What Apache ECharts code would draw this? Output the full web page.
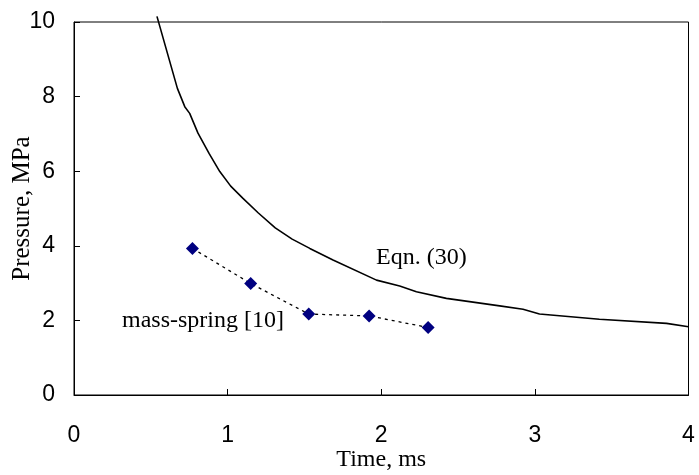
<!DOCTYPE html>
<html><head><meta charset="utf-8">
<script src="https://cdn.jsdelivr.net/npm/echarts@6/dist/echarts.min.js"></script>
<style>html,body{margin:0;padding:0;background:#fff}#c{width:699px;height:475px}</style>
</head><body><div id="c"></div>
<script>
// Eqn. (30) curve: time (ms), pressure (MPa)
const eqnTime = [0.54, 0.673, 0.721, 0.753, 0.807, 0.88, 0.949, 1.02, 1.10, 1.20, 1.31, 1.42, 1.535, 1.686, 1.969, 2.12, 2.229, 2.424, 2.771, 2.923, 3.03, 3.42, 3.857, 4.0];
const eqnPressure = [10.15, 8.22, 7.73, 7.55, 7.02, 6.47, 5.99, 5.60, 5.27, 4.88, 4.48, 4.18, 3.93, 3.62, 3.08, 2.92, 2.77, 2.59, 2.39, 2.30, 2.17, 2.03, 1.92, 1.83];
// mass-spring [10]
const msTime = [0.771, 1.150, 1.528, 1.921, 2.305];
const msPressure = [3.93, 2.99, 2.17, 2.12, 1.81];
const xTicks = [0, 1, 2, 3, 4];
const yTicks = [0, 2, 4, 6, 8, 10];
const xTitle = 'Time, ms';
const yTitle = 'Pressure, MPa';
const eqnLabel = 'Eqn. (30)';
const msLabel = 'mass-spring [10]';

const chart = echarts.init(document.getElementById('c'));
const serif = '"Liberation Serif", "Times New Roman", serif';
const sans = '"Liberation Sans", Arial, sans-serif';
chart.setOption({
  animation: false,
  grid: {left: 74, right: 10.5, top: 22, bottom: 80, containLabel: false, outerBoundsMode: 'none',
         show: true, borderColor: '#000', borderWidth: 1},
  xAxis: {
    type: 'value', min: xTicks[0], max: xTicks[xTicks.length - 1], interval: 1,
    axisLine: {lineStyle: {color: '#000', width: 1}},
    axisTick: {inside: true, length: 6, lineStyle: {color: '#000'}},
    splitLine: {show: false},
    axisLabel: {color: '#000', fontFamily: sans, fontSize: 23, margin: 29},
    name: xTitle, nameLocation: 'middle', nameGap: 53, nameMoveOverlap: false,
    nameTextStyle: {color: '#000', fontFamily: serif, fontSize: 24}
  },
  yAxis: {
    type: 'value', min: yTicks[0], max: yTicks[yTicks.length - 1], interval: 2,
    axisLine: {lineStyle: {color: '#000', width: 1}},
    axisTick: {inside: true, length: 6, lineStyle: {color: '#000'}},
    splitLine: {show: false},
    axisLabel: {color: '#000', fontFamily: sans, fontSize: 23, margin: 19},
    name: yTitle, nameLocation: 'middle', nameGap: 39, nameMoveOverlap: false,
    nameTextStyle: {color: '#000', fontFamily: serif, fontSize: 25}
  },
  series: [
    {type: 'line', data: eqnTime.map((t, i) => [t, eqnPressure[i]]), showSymbol: false, clip: false,
     lineStyle: {color: '#000', width: 1.6}},
    {type: 'line', data: msTime.map((t, i) => [t, msPressure[i]]), symbol: 'diamond', symbolSize: 13,
     itemStyle: {color: '#000080'}, lineStyle: {color: '#000', width: 1.3, type: [3, 4]}}
  ],
  graphic: [
    {type: 'text', left: 376, top: 246, style: {text: eqnLabel, font: '24px ' + serif, fill: '#000'}},
    {type: 'text', left: 122, top: 309, style: {text: msLabel, font: '24px ' + serif, fill: '#000'}}
  ]
});
</script></body></html>
